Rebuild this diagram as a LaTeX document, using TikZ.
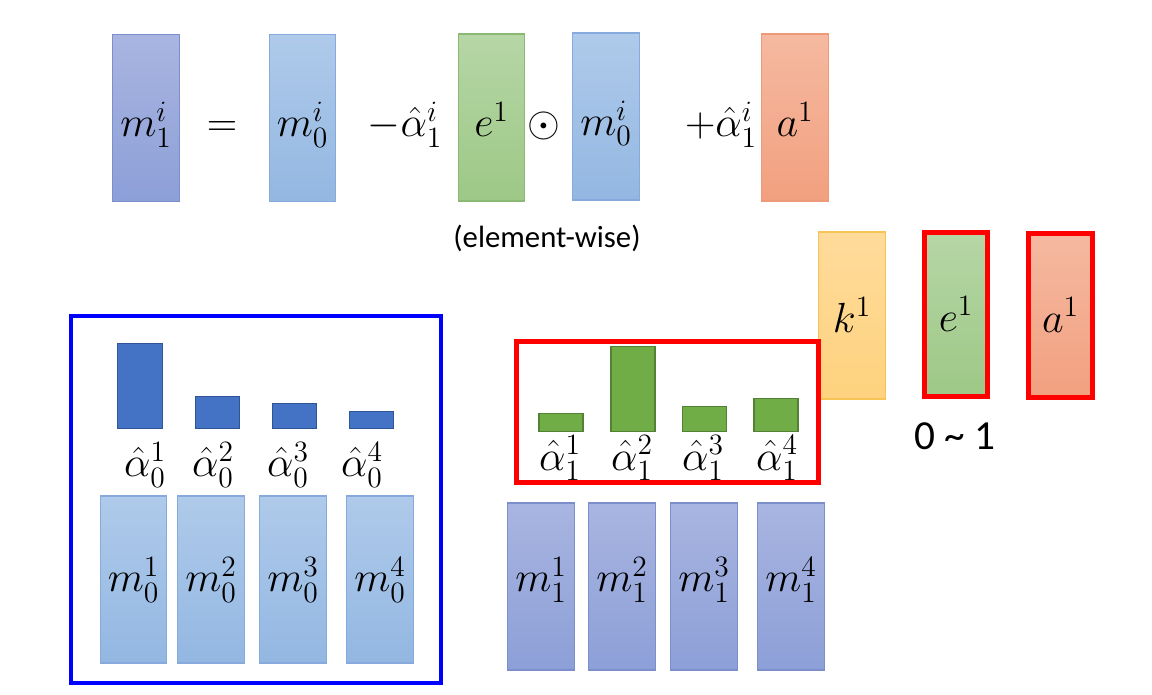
\RequirePackage{fix-cm}
\documentclass[tikz,border=0pt]{standalone}
\usepackage{fontspec}
\newfontfamily\calibrifont{Carlito}
\definecolor{mAtop}{HTML}{A9B5E1}\definecolor{mAbot}{HTML}{8C9FD7}\definecolor{mAbd}{HTML}{7C8FCB}
\definecolor{mBtop}{HTML}{AFCAEA}\definecolor{mBbot}{HTML}{93B7E2}\definecolor{mBbd}{HTML}{86AADB}
\definecolor{gtop}{HTML}{B6D6A6}\definecolor{gbot}{HTML}{9DC886}\definecolor{gbd}{HTML}{8AB973}
\definecolor{otop}{HTML}{F5B9A1}\definecolor{obot}{HTML}{F2A07F}\definecolor{obd}{HTML}{EE9A78}
\definecolor{ytop}{HTML}{FFDB9B}\definecolor{ybot}{HTML}{FED27E}\definecolor{ybd}{HTML}{F7C556}
\definecolor{barblue}{HTML}{4472C4}\definecolor{barbluebd}{HTML}{2F5597}
\definecolor{bargreen}{HTML}{70AD47}\definecolor{bargreenbd}{HTML}{548235}
\definecolor{frred}{HTML}{FF0000}\definecolor{frblue}{HTML}{0000FF}
\begin{document}
\begin{tikzpicture}[x=0.02cm,y=-0.02cm,
  mathtxt/.style={font=\fontsize{24}{28}\selectfont, inner sep=0},
  vec/.style={draw, line width=0.6pt, inner sep=0, minimum width=1.33cm, minimum height=3.34cm,
    font=\fontsize{24}{28}\selectfont, text depth=0pt},
  topvec/.style={vec, text height=21.6pt},
  rightvec/.style={vec, text height=18.8pt},
  lowvec/.style={vec, text height=14.2pt},
  redvec/.style={vec, text height=6.2pt},
  purple/.style={top color=mAtop, bottom color=mAbot, draw=mAbd},
  lblue/.style={top color=mBtop, bottom color=mBbot, draw=mBbd},
  green/.style={top color=gtop, bottom color=gbot, draw=gbd},
  orange/.style={top color=otop, bottom color=obot, draw=obd},
  yellow/.style={top color=ytop, bottom color=ybot, draw=ybd},
  redbord/.style={draw=frred, line width=2.8pt, minimum width=1.27cm, minimum height=3.28cm},
  bluebar/.style={draw=barbluebd, fill=barblue, line width=0.6pt, inner sep=0, minimum width=0.89cm, anchor=south},
  greenbar/.style={draw=bargreenbd, fill=bargreen, line width=0.6pt, inner sep=0, minimum width=0.88cm, anchor=south},
  sanstxt/.style={font=\calibrifont\fontsize{17.5}{21}\selectfont, inner sep=0}
]
\useasboundingbox (0,0) rectangle (1152,695);
% top equation
\node[topvec, purple] (m1i) at (146,118) {$m_1^i$};
\node[mathtxt, anchor=base] (eq) at (222,137) {$=$};
\node[topvec, lblue] (m0i) at (302.5,118) {$m_0^i$};
\node[mathtxt, anchor=base] (minus) at (405,137) {$-\hat{\alpha}_1^i$};
\node[topvec, green] (e1) at (491.5,117.5) {$e^1$};
\node[mathtxt, anchor=base] (odot) at (544,137) {$\odot$};
\node[topvec, lblue] (m0ib) at (606,116.5) {$m_0^i$};
\node[mathtxt, anchor=base] (plus) at (721,137) {$+\hat{\alpha}_1^i$};
\node[topvec, orange] (a1) at (795,117.5) {$a^1$};
\node[sanstxt] (ew) at (547,238) {(element-wise)};
% right group
\node[rightvec, yellow] (k1) at (852,315.5) {$k^1$};
\node[rightvec, green, redbord] (e1r) at (956,314.5) {$e^1$};
\node[rightvec, orange, redbord] (a1r) at (1060.5,315.5) {$a^1$};
\node[font=\calibrifont\fontsize{23.5}{28}\selectfont, inner sep=0] (range) at (955,436) {0 \textasciitilde{} 1};
% left frame
\coordinate (bfNW) at (71,316);
\coordinate (bfSE) at (441,683);
\draw[frblue, line width=2.27pt] (bfNW) rectangle (bfSE);
\node[bluebar, minimum height=1.7cm] (ba1) at (140,429) {};
\node[bluebar, minimum height=0.64cm] (ba2) at (217.5,429) {};
\node[bluebar, minimum height=0.5cm] (ba3) at (294.5,429) {};
\node[bluebar, minimum height=0.34cm] (ba4) at (371.5,429) {};
\node[mathtxt, anchor=base] (al01) at (145,477) {$\hat{\alpha}_0^1$};
\node[mathtxt, anchor=base] (al02) at (213,477) {$\hat{\alpha}_0^2$};
\node[mathtxt, anchor=base] (al03) at (288,477) {$\hat{\alpha}_0^3$};
\node[mathtxt, anchor=base] (al04) at (362,477) {$\hat{\alpha}_0^4$};
\node[lowvec, lblue] (m01) at (133.5,579.5) {$m_0^1$};
\node[lowvec, lblue] (m02) at (211,579.5) {$m_0^2$};
\node[lowvec, lblue] (m03) at (293,579.5) {$m_0^3$};
\node[lowvec, lblue] (m04) at (380,579.5) {$m_0^4$};
% red frame
\coordinate (rfNW) at (516.5,341.5);
\coordinate (rfSE) at (818.5,482.5);
\draw[frred, line width=2.8pt] (rfNW) rectangle (rfSE);
\node[greenbar, minimum height=0.36cm] (ga1) at (561,432) {};
\node[greenbar, minimum height=1.7cm] (ga2) at (633,432) {};
\node[greenbar, minimum height=0.5cm] (ga3) at (704.5,432) {};
\node[greenbar, minimum height=0.66cm] (ga4) at (776,432) {};
\node[mathtxt, anchor=base] (al11) at (560,470) {$\hat{\alpha}_1^1$};
\node[mathtxt, anchor=base] (al12) at (632,470) {$\hat{\alpha}_1^2$};
\node[mathtxt, anchor=base] (al13) at (703,470) {$\hat{\alpha}_1^3$};
\node[mathtxt, anchor=base] (al14) at (777,470) {$\hat{\alpha}_1^4$};
\node[redvec, purple] (m11) at (541,586.5) {$m_1^1$};
\node[redvec, purple] (m12) at (622,586.5) {$m_1^2$};
\node[redvec, purple] (m13) at (704,586.5) {$m_1^3$};
\node[redvec, purple] (m14) at (791,586.5) {$m_1^4$};
\end{tikzpicture}
\end{document}
